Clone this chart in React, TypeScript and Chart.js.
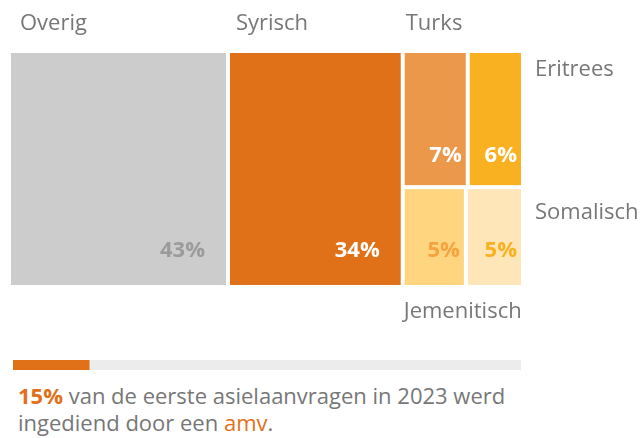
import React, { useEffect, useRef } from "react";
import { Chart, registerables } from "chart.js";

Chart.register(...registerables);

// ---- data ----
const categories = ["Overig", "Syrisch", "Turks", "Eritrees", "Jemenitisch", "Somalisch"];
const shares = [42.6, 34, 7.3, 6.2, 5.2, 4.7];
const amvLabel = ["amv"];
const amvShare = [15];
const otherShare = [85];

// ---- style ----
const cellColors = ["#cccccc", "#e07119", "#eb984b", "#f9b122", "#ffd57f", "#ffe6b8"];
const valueColors = ["#9b9b9b", "#ffffff", "#ffffff", "#ffffff", "#f5a23f", "#f9b122"];
// treemap structure: columns -> rows -> item indices
const layoutTree = [[[0]], [[1]], [[2, 3], [4, 5]]];
// where each category name goes relative to its cell
const namePlacement = [
  { side: "top", dx: 9, dy: -23 },
  { side: "top", dx: 6, dy: -23 },
  { side: "top", dx: 1, dy: -23 },
  { side: "right", dx: 14, dy: 23 },
  { side: "bottom", dx: -1, dy: 33 },
  { side: "right", dx: 14, dy: 30 },
];
const valueBottomInset = [28, 28, 23, 23, 28, 28];

const ORANGE = "#e07119";
const TEXT_GRAY = "#777777";
const FONT = "'Open Sans', 'Noto Sans', sans-serif";

const treemapPlugin = {
  id: "treemapCells",
  afterDraw(chart: any) {
    const ctx = chart.ctx;
    const xs = chart.scales.x;
    const ys = chart.scales.y;
    const total = shares.reduce((a, b) => a + b, 0);
    const rects: any[] = [];
    let x0 = 0;
    for (const column of layoutTree) {
      const colSum = column.flat().reduce((a, i) => a + shares[i], 0);
      const colW = (colSum / total) * 100;
      let yTop = 100;
      for (const row of column) {
        const rowSum = row.reduce((a, i) => a + shares[i], 0);
        const rowH = (rowSum / colSum) * 100;
        let cx = x0;
        for (const idx of row) {
          const w = (shares[idx] / rowSum) * colW;
          rects.push({ idx, x0: cx, x1: cx + w, y0: yTop - rowH, y1: yTop });
          cx += w;
        }
        yTop -= rowH;
      }
      x0 += colW;
    }
    ctx.save();
    for (const r of rects) {
      const left = xs.getPixelForValue(r.x0) + 2;
      const right = xs.getPixelForValue(r.x1) - 2;
      const top = ys.getPixelForValue(r.y1) + 2;
      const bottom = ys.getPixelForValue(r.y0) - 2;
      ctx.fillStyle = cellColors[r.idx];
      ctx.fillRect(left, top, right - left, bottom - top);

      // value label
      ctx.font = `bold 22px ${FONT}`;
      ctx.fillStyle = valueColors[r.idx];
      ctx.textAlign = "right";
      ctx.textBaseline = "alphabetic";
      const pad = right - left > 100 ? 21 : 4;
      ctx.fillText(`${Math.round(shares[r.idx])}%`, right - pad, bottom - valueBottomInset[r.idx]);

      // category name
      const p = namePlacement[r.idx];
      ctx.font = `22px ${FONT}`;
      ctx.fillStyle = TEXT_GRAY;
      ctx.textAlign = "left";
      let tx = left, ty = top;
      if (p.side === "top") { tx = left + p.dx; ty = top + p.dy; }
      else if (p.side === "right") { tx = right + p.dx; ty = top + p.dy; }
      else { tx = left + p.dx; ty = bottom + p.dy; }
      ctx.fillText(categories[r.idx], tx, ty);
    }
    ctx.restore();
  },
};

export default function App() {
  const mainRef = useRef<HTMLCanvasElement>(null);
  const barRef = useRef<HTMLCanvasElement>(null);

  useEffect(() => {
    document.body.style.margin = "0";
    const main = new Chart(mainRef.current!, {
      type: "scatter",
      data: { datasets: [{ label: "aandeel", data: [] }] },
      options: {
        responsive: false,
        animation: false,
        layout: { padding: { left: 9, right: 118, top: 51, bottom: 53 } },
        plugins: { legend: { display: false }, tooltip: { enabled: false } },
        scales: {
          x: { type: "linear", min: 0, max: 100, display: false },
          y: { type: "linear", min: 0, max: 100, display: false },
        },
      },
      plugins: [treemapPlugin],
    });
    const bar = new Chart(barRef.current!, {
      type: "bar",
      data: {
        labels: amvLabel,
        datasets: [
          { data: amvShare, backgroundColor: ORANGE, borderWidth: 0, barPercentage: 1, categoryPercentage: 1 },
          { data: otherShare, backgroundColor: "#ececec", borderWidth: 0, barPercentage: 1, categoryPercentage: 1 },
        ],
      },
      options: {
        indexAxis: "y",
        responsive: false,
        animation: false,
        layout: { padding: 0 },
        plugins: { legend: { display: false }, tooltip: { enabled: false } },
        scales: {
          x: { stacked: true, min: 0, max: 100, display: false },
          y: { stacked: true, display: false },
        },
      },
    });
    return () => {
      main.destroy();
      bar.destroy();
    };
  }, []);

  return (
    <div style={{ position: "relative", width: 641, height: 438, background: "#fff", overflow: "hidden" }}>
      <canvas ref={mainRef} width={641} height={340} style={{ position: "absolute", left: 0, top: 0 }} />
      <canvas ref={barRef} width={508} height={10} style={{ position: "absolute", left: 13, top: 360 }} />
      <div
        style={{
          position: "absolute",
          left: 18,
          top: 382,
          fontFamily: FONT,
          fontSize: 22,
          lineHeight: "27px",
          color: TEXT_GRAY,
          whiteSpace: "nowrap",
        }}
      >
        <span style={{ color: ORANGE, fontWeight: 700 }}>15%</span> van de eerste asielaanvragen in 2023 werd
        <br />
        ingediend door een <span style={{ color: ORANGE }}>amv</span>.
      </div>
    </div>
  );
}
